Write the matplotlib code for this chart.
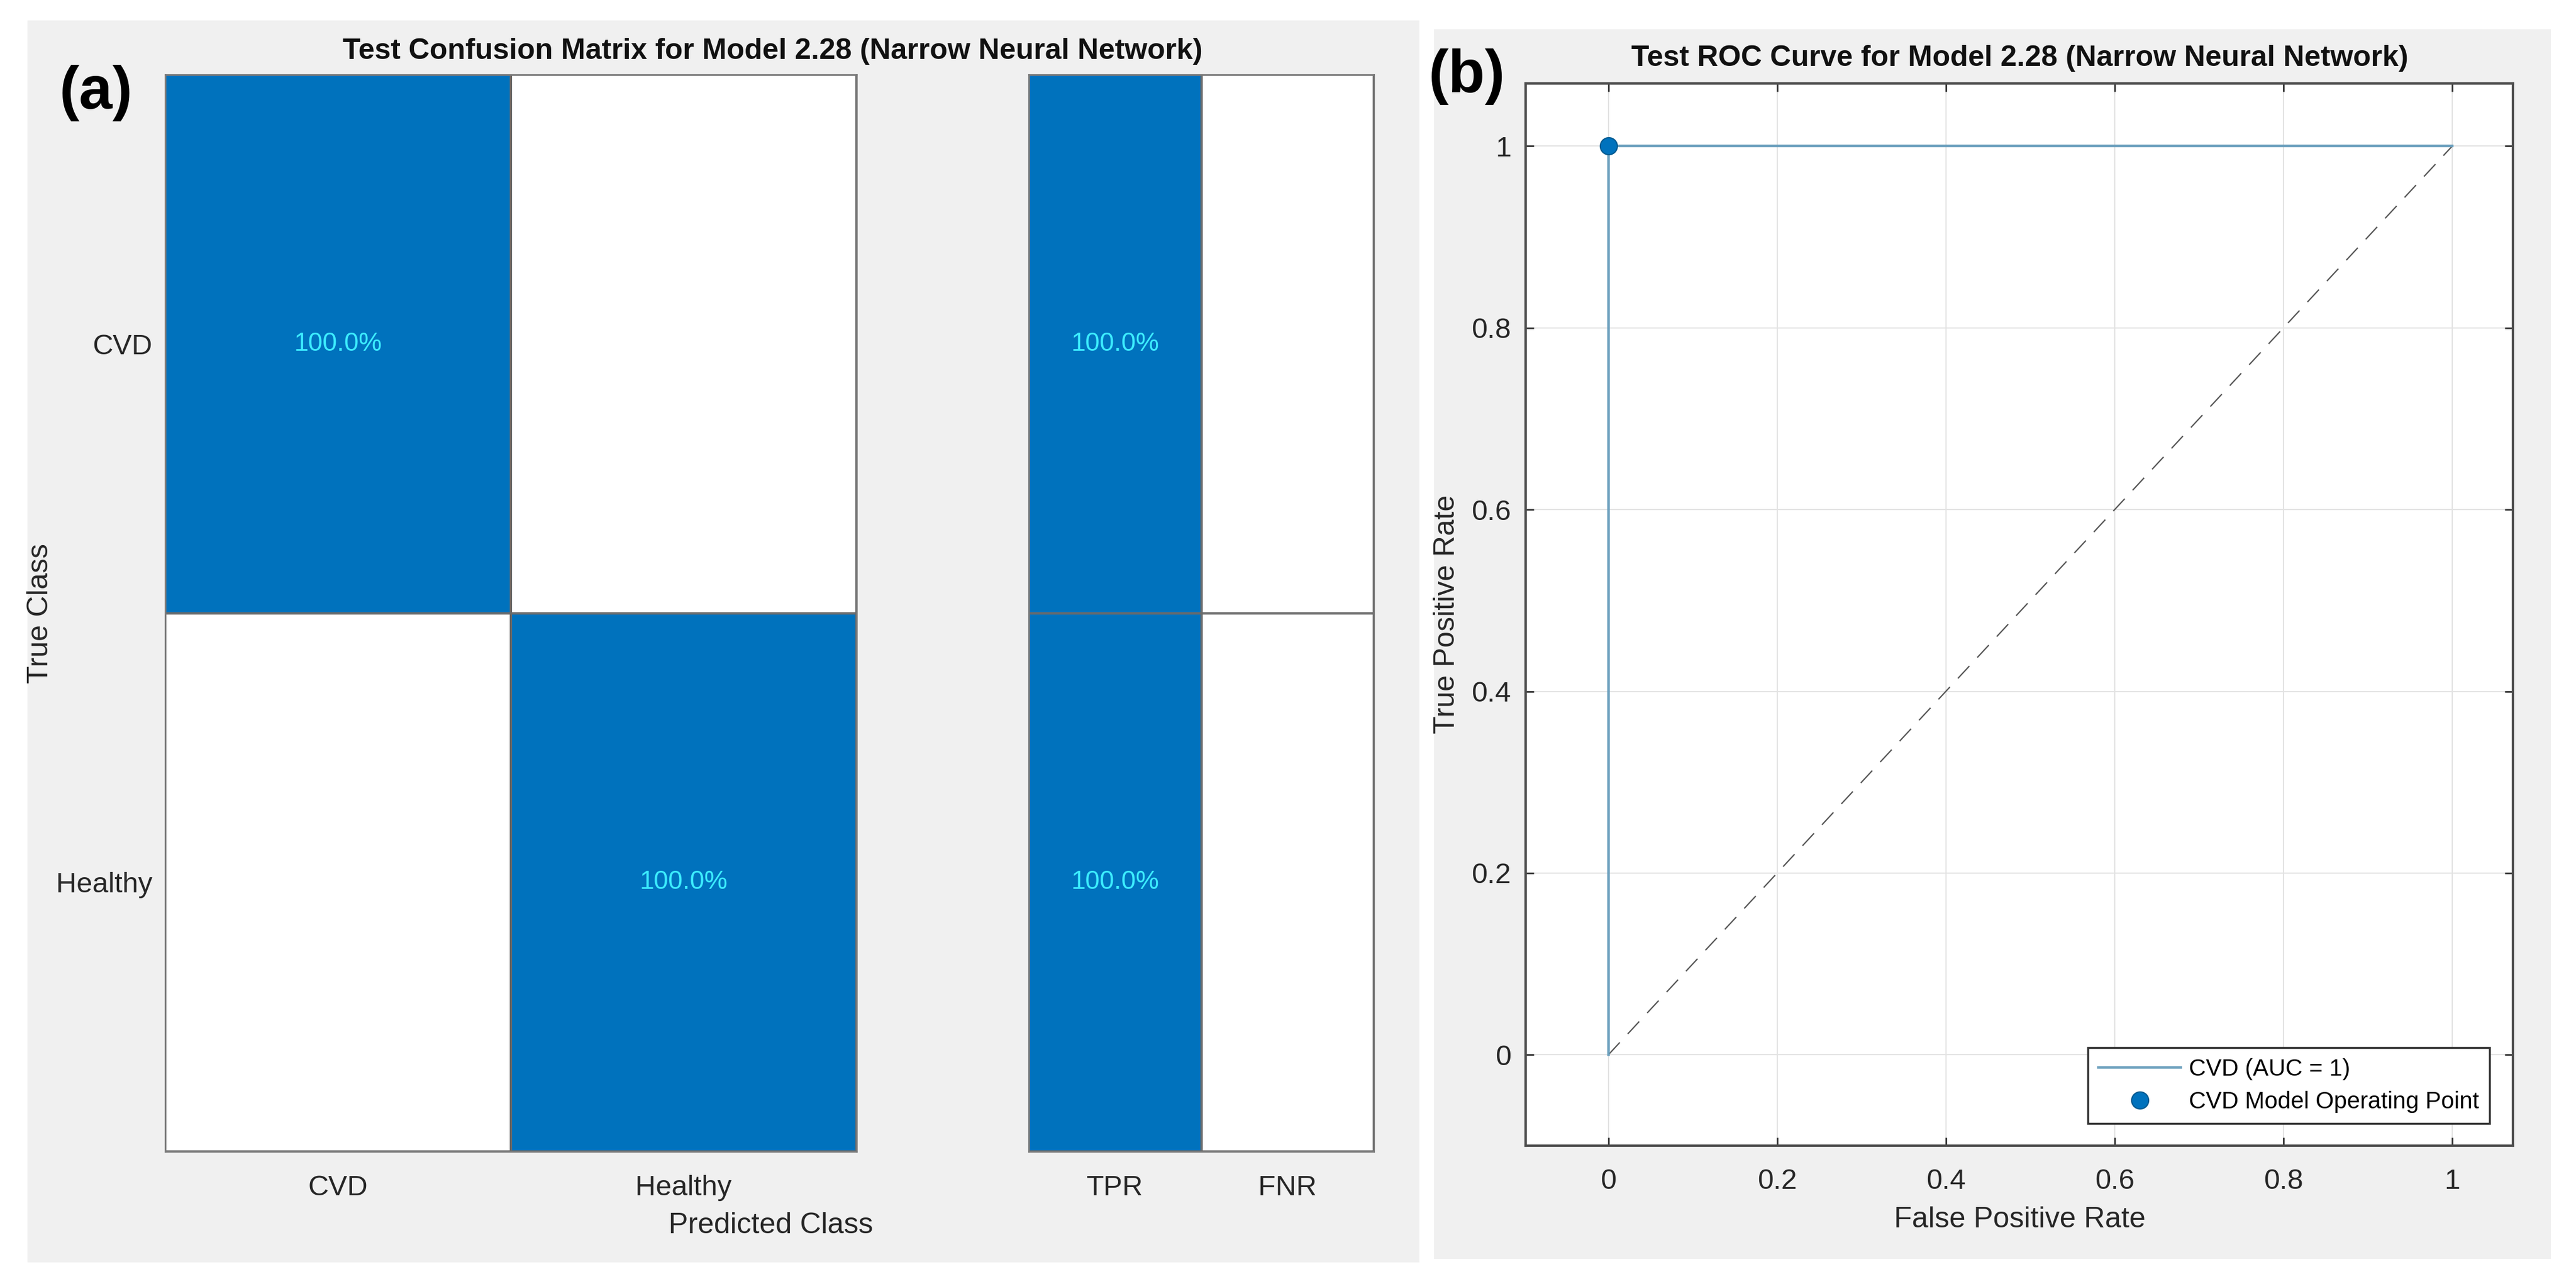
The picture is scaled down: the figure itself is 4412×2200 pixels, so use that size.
import matplotlib
matplotlib.use('Agg')
import matplotlib.pyplot as plt
from matplotlib.colors import LinearSegmentedColormap
from matplotlib.patches import Rectangle
from matplotlib.ticker import FormatStrFormatter

# DATA
classes = ['CVD', 'Healthy']
cm_percent = [[100.0, 0.0],
              [0.0, 100.0]]  # rows = true class, cols = predicted
rate_labels = ['TPR', 'FNR']
tpr = [100.0, 100.0]
fnr = [0.0, 0.0]

roc_fpr = [0.0, 0.0, 1.0]
roc_tpr = [0.0, 1.0, 1.0]
chance_x = [0.0, 1.0]
chance_y = [0.0, 1.0]
op_fpr = [0.0]
op_tpr = [1.0]
auc = 1
roc_ticks = [0, 0.2, 0.4, 0.6, 0.8, 1]

#VISUALS
W, H = 4412, 2200
fonts = ['Liberation Sans Narrow', 'Liberation Sans', 'DejaVu Sans']
plt.rcParams['font.family'] = fonts
blue = '#0072BD'
panel_gray = '#f0f0f0'
txt_gray = '#262626'

fig = plt.figure(figsize=(W / 100, H / 100), dpi=100)
fig.set_facecolor('white')


def box(x0, y0, x1, y1):
    # pixel box (top-left origin) -> figure fraction rect
    return [x0 / W, 1 - y1 / H, (x1 - x0) / W, (y1 - y0) / H]


def fx(x):
    return x / W


def fy(y):
    return 1 - y / H


# gray panel backgrounds (behind the axes)
for (x0, y0, x1, y1) in [(47, 35, 2431, 2163), (2456, 50, 4369, 2157)]:
    fig.patches.append(Rectangle((fx(x0), fy(y1)), (x1 - x0) / W, (y1 - y0) / H,
                                 transform=fig.transFigure, facecolor=panel_gray,
                                 edgecolor='none', zorder=-5))

cmap = LinearSegmentedColormap.from_list('wb', ['white', blue])
cell_text_color = '#3cecff'

# (a) confusion matrix
ax_cm = fig.add_axes(box(283, 128, 1467, 1973))
ax_cm.pcolormesh(cm_percent, cmap=cmap, vmin=0, vmax=100,
                 edgecolors='#6a6a6a', linewidth=1.5)
ax_cm.set_xlim(0, 2)
ax_cm.set_ylim(2, 0)
ax_cm.set_xticks([0.5, 1.5])
ax_cm.set_xticklabels(classes)
ax_cm.set_yticks([0.5, 1.5])
ax_cm.set_yticklabels(classes)
ax_cm.tick_params(axis='x', length=0, pad=29, labelsize=35, labelcolor=txt_gray)
ax_cm.tick_params(axis='y', length=0, pad=16, labelsize=35, labelcolor=txt_gray)
for i in range(len(classes)):
    for j in range(len(classes)):
        v = cm_percent[i][j]
        if v > 0:
            ax_cm.text(j + 0.5, i + 0.5, f'{v:.1f}%', ha='center', va='center',
                       fontsize=32, color=cell_text_color)
for s in ax_cm.spines.values():
    s.set_color('#7a7a7a')
    s.set_linewidth(2)

# TPR / FNR summary
rates = [[tpr[k], fnr[k]] for k in range(len(classes))]
ax_r = fig.add_axes(box(1762, 128, 2353, 1973))
ax_r.pcolormesh(rates, cmap=cmap, vmin=0, vmax=100,
                edgecolors='#6a6a6a', linewidth=1.5)
ax_r.set_xlim(0, 2)
ax_r.set_ylim(2, 0)
ax_r.set_xticks([0.5, 1.5])
ax_r.set_xticklabels(rate_labels)
ax_r.set_yticks([])
ax_r.tick_params(axis='x', length=0, pad=29, labelsize=35, labelcolor=txt_gray)
for i in range(len(classes)):
    for j in range(2):
        v = rates[i][j]
        if v > 0:
            ax_r.text(j + 0.5, i + 0.5, f'{v:.1f}%', ha='center', va='center',
                      fontsize=32, color=cell_text_color)
for s in ax_r.spines.values():
    s.set_color('#7a7a7a')
    s.set_linewidth(2)

fig.text(fx(1323), fy(88), 'Test Confusion Matrix for Model 2.28 (Narrow Neural Network)',
         ha='center', va='center', fontsize=36, fontweight='bold', color='#111111')
fig.text(fx(1320), fy(2100), 'Predicted Class', ha='center', va='center',
         fontsize=36, color=txt_gray)
fig.text(fx(69), fy(1051), 'True Class', ha='center', va='center', rotation=90,
         fontsize=36, color=txt_gray)
fig.text(fx(165), fy(160), '(a)', ha='center', va='center', fontsize=74,
         fontweight='bold', color='black')

# (b) ROC curve
ax_roc = fig.add_axes(box(2613, 143, 4304, 1963))
ax_roc.set_facecolor('white')
ax_roc.grid(True, color='#e3e3e3', linewidth=1.5, zorder=0)
ax_roc.set_axisbelow(True)
ax_roc.plot(chance_x, chance_y, color='#555555', linewidth=1.6,
            dashes=(13, 9), zorder=2)
ax_roc.plot(roc_fpr, roc_tpr, color='#6a9fbd', linewidth=3.2,
            label=f'CVD (AUC = {auc})', zorder=3)
ax_roc.plot(op_fpr, op_tpr, linestyle='none', marker='o', markersize=21,
            markerfacecolor=blue, markeredgecolor='#00598f', markeredgewidth=1.5,
            label='CVD Model Operating Point', zorder=4)
ax_roc.set_xlim(-0.098, 1.072)
ax_roc.set_ylim(-0.1, 1.069)
ax_roc.set_xticks(roc_ticks)
ax_roc.set_yticks(roc_ticks)
ax_roc.xaxis.set_major_formatter(FormatStrFormatter('%g'))
ax_roc.yaxis.set_major_formatter(FormatStrFormatter('%g'))
ax_roc.tick_params(axis='both', direction='in', top=True, right=True,
                   length=10, width=2, color='#333333', labelsize=35,
                   labelcolor=txt_gray)
ax_roc.tick_params(axis='x', pad=28)
ax_roc.tick_params(axis='y', pad=18)
for s in ax_roc.spines.values():
    s.set_color('#4d4d4d')
    s.set_linewidth(3)

leg = ax_roc.legend(loc='lower right', bbox_to_anchor=(0.9764, 0.0209),
                    borderaxespad=0, fontsize=29, frameon=True, fancybox=False,
                    framealpha=1, edgecolor='#333333', handlelength=3.5,
                    handletextpad=0.35, borderpad=0.45, labelspacing=0.45)
leg.get_frame().set_linewidth(2.5)

fig.text(fx(3459), fy(100), 'Test ROC Curve for Model 2.28 (Narrow Neural Network)',
         ha='center', va='center', fontsize=36, fontweight='bold', color='#111111')
fig.text(fx(3459), fy(2090), 'False Positive Rate', ha='center', va='center',
         fontsize=36, color=txt_gray)
fig.text(fx(2478), fy(1052), 'True Positive Rate', ha='center', va='center',
         rotation=90, fontsize=36, color=txt_gray)
fig.text(fx(2512), fy(132), '(b)', ha='center', va='center', fontsize=74,
         fontweight='bold', color='black')
#END VISUALS

fig.savefig('out.png', dpi=100, facecolor=fig.get_facecolor())
